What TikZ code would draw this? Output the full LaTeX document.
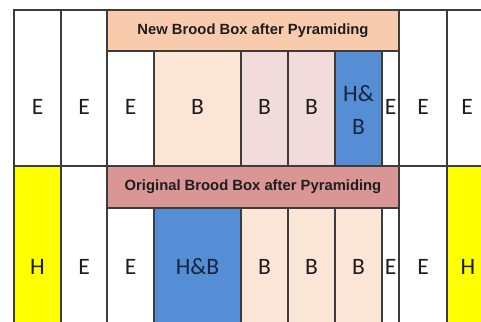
\documentclass[tikz,border=0pt]{standalone}
\usepackage{fontspec}
\setmainfont{Carlito}
\newfontfamily\bannerfont{Liberation Sans}
\usepackage{tikz}
\usetikzlibrary{positioning}
\definecolor{peachbanner}{RGB}{248, 203, 173}
\definecolor{peachlight}{RGB}{251, 229, 214}
\definecolor{pinklight}{RGB}{242, 220, 219}
\definecolor{roseband}{RGB}{217, 150, 148}
\definecolor{broodblue}{RGB}{85, 142, 213}
\definecolor{honeyyellow}{RGB}{255, 255, 0}
\definecolor{framegray}{RGB}{60, 60, 60}
\definecolor{labelgray}{RGB}{30, 30, 30}
\definecolor{navytext}{RGB}{23, 38, 64}

\begin{document}
\begin{tikzpicture}[x=1pt, y=-1pt, line cap=rect,
	frame/.style={draw=framegray, line width=1.3pt},
	frame label/.style={font=\fontsize{23.5}{33}\selectfont, text=labelgray, inner sep=0pt, align=center},
	banner label/.style={font=\bannerfont\bfseries\fontsize{14.8}{17}\selectfont, text=labelgray, inner sep=0pt}]
	\useasboundingbox (0,0) rectangle (481,321);
	
	% fillings of the frames
	\fill[peachbanner] (107,10) rectangle (399,51);
	\fill[peachlight] (154,51) rectangle (241,166);
	\fill[pinklight] (241,51) rectangle (335,166);
	\fill[broodblue] (335,51) rectangle (382,166);
	\fill[honeyyellow] (14,166) rectangle (61,325);
	\fill[honeyyellow] (447,166) rectangle (485,325);
	\fill[roseband] (107,166) rectangle (399,208);
	\fill[broodblue] (154,208) rectangle (241,325);
	\fill[peachlight] (241,208) rectangle (382,325);
	
	% box outlines and frame dividers
	\draw[frame] (14,10) -- (485,10);
	\draw[frame] (14,166) -- (485,166);
	\draw[frame] (107,51) -- (399,51) (107,208) -- (399,208);
	\foreach \x in {14,61,107,399,447}
		\draw[frame] (\x,10) -- (\x,325);
	\foreach \x in {154,241,288,335,382}
		\draw[frame] (\x,51) -- (\x,166) (\x,208) -- (\x,325);
	
	% box titles
	\node[banner label] (newbox) at (253,30.5) {New Brood Box after Pyramiding};
	\node[banner label] (oldbox) at (253,187) {Original Brood Box after Pyramiding};
	
	% upper row of frames
	\node[frame label] (up1) at (37.5,106.5) {E};
	\node[frame label] (up2) at (84,106.5) {E};
	\node[frame label] (up3) at (130.5,106.5) {E};
	\node[frame label] (up4) at (197.5,106.5) {B};
	\node[frame label] (up5) at (264.5,106.5) {B};
	\node[frame label] (up6) at (311.5,106.5) {B};
	\node[frame label, text=navytext] (up7) at (358.5,110) {H\&\\B};
	\node[frame label] (up8) at (390.5,106.5) {E};
	\node[frame label] (up9) at (423,106.5) {E};
	\node[frame label] (up10) at (467,106.5) {E};
	
	% lower row of frames
	\node[frame label] (low1) at (37.5,267) {H};
	\node[frame label] (low2) at (84,267) {E};
	\node[frame label] (low3) at (130.5,267) {E};
	\node[frame label, text=navytext] (low4) at (197.5,267) {H\&B};
	\node[frame label] (low5) at (264.5,267) {B};
	\node[frame label] (low6) at (311.5,267) {B};
	\node[frame label] (low7) at (358.5,267) {B};
	\node[frame label] (low8) at (390.5,267) {E};
	\node[frame label] (low9) at (423,267) {E};
	\node[frame label] (low10) at (468,267) {H};

\end{tikzpicture}
\end{document}
